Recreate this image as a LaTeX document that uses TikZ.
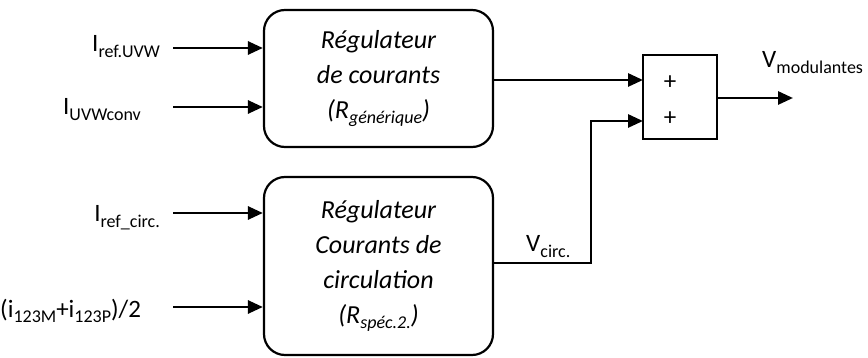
\documentclass[tikz,border=0pt]{standalone}
\usepackage{fontspec}
\setmainfont{Carlito}
\usetikzlibrary{arrows.meta}
\newcommand{\lowtxt}[1]{\raisebox{-0.22em}{\fontsize{18}{18}\selectfont #1}}
\newcommand{\lowit}[1]{\raisebox{-0.22em}{\fontsize{18}{18}\selectfont\itshape #1}}
\tikzset{
  regbox/.style={draw, line width=2.2pt, rounded corners=21pt, inner sep=0pt, align=center,
    font=\fontsize{26}{35}\selectfont\itshape},
  sumbox/.style={draw, line width=2.2pt, inner sep=0pt},
  sig/.style={line width=2.8pt, -{Triangle[length=15pt,width=13pt]}},
  lbl/.style={font=\fontsize{25}{25}\selectfont, inner sep=0pt},
}
\begin{document}
\begin{tikzpicture}[x=1pt,y=-1pt]
\useasboundingbox (0,0) rectangle (868,358);
% boxes
\node[regbox, minimum width=229pt, minimum height=137pt] (b1) at (378.5,78.5)
  {Régulateur\\de courants\\(R\lowit{générique})};
\node[regbox, minimum width=229pt, minimum height=178pt] (b2) at (378.5,266)
  {Régulateur\\Courants de\\circulation\\(R\lowit{spéc.2.})};
\node[sumbox, minimum width=74pt, minimum height=84pt] (s) at (680,97) {};
\node[lbl] (p1) at (670,83) {+};
\node[lbl] (p2) at (670,119) {+};
% input coordinates
\coordinate (i1) at (173,48);
\coordinate (i2) at (173,107);
\coordinate (i3) at (173,213);
\coordinate (i4) at (173,307);
\coordinate (s1) at (643,80);
\coordinate (s2) at (643,121);
\coordinate (v1) at (493,263);
\coordinate (k) at (591,263);
\coordinate (out) at (793,98);
% labels
\node[lbl, anchor=base east] (l1) at (160,52) {I\lowtxt{ref.UVW}};
\node[lbl, anchor=base west] (l2) at (63,115) {I\lowtxt{UVWconv}};
\node[lbl, anchor=base east] (l3) at (160,222) {I\lowtxt{ref\_circ.}};
\node[lbl, anchor=base west] (l4) at (0,317) {(i\lowtxt{123M}+i\lowtxt{123P})/2};
\node[lbl, anchor=base west] (l5) at (526,252) {V\lowtxt{circ.}};
\node[lbl, anchor=base west] (l6) at (762,68) {V\lowtxt{modulantes}};
% connectors
\draw[sig] (i1) -- (i1 -| b1.west);
\draw[sig] (i2) -- (i2 -| b1.west);
\draw[sig] (i3) -- (i3 -| b2.west);
\draw[sig] (i4) -- (i4 -| b2.west);
\draw[sig] (s1 -| b1.east) -- (s1);
\draw[sig] (v1) -- (k) |- (s2);
\draw[sig] (out -| s.east) -- (out);
\end{tikzpicture}
\end{document}
